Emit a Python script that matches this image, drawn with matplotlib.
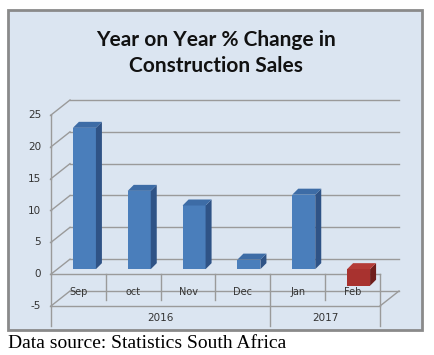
import matplotlib
matplotlib.use("Agg")
import matplotlib.pyplot as plt
from matplotlib.patches import Rectangle, Polygon

months = ["Sep", "oct", "Nov", "Dec", "Jan", "Feb"]
years = ["2016", "2017"]
year_spans = [(0, 3), (4, 5)]
change = [22.2, 12.3, 10.0, 1.5, 11.7, -2.6]
yticks = [-5, 0, 5, 10, 15, 20, 25]

W, H = 434, 355
fig = plt.figure(figsize=(W / 100, H / 100), dpi=100)
fig.patch.set_facecolor("white")

# chart box
box = Rectangle((8 / W, 1 - 330 / H), 414 / W, 320 / H, transform=fig.transFigure,
                facecolor="#dbe5f1", edgecolor="#8a8a8a", lw=2, zorder=-10)
fig.patches.append(box)

fig.text(216 / W, 1 - 40 / H, "Year on Year % Change in", ha="center", va="center",
         fontsize=15, fontweight="bold", family="Lato", color="#111111")
fig.text(216 / W, 1 - 66 / H, "Construction Sales", ha="center", va="center",
         fontsize=15, fontweight="bold", family="Lato", color="#111111")
fig.text(8 / W, 1 - 343 / H, "Data source: Statistics South Africa", ha="left", va="center",
         fontsize=14, family="Liberation Serif", color="black")

# plot area: front plane
ax = fig.add_axes([51 / W, 1 - 306 / H, 329 / W, 191 / H])
ax.set_xlim(-0.5, 5.5)
ax.set_ylim(-5, 25)
ax.axis("off")

ppx = 329 / 6.0   # pixels per category
ppy = 191 / 30.0  # pixels per unit
wdx, wdy = 19 / ppx, 15 / ppy     # depth to back wall
grid = "#9a9a9a"
kw = dict(color=grid, lw=1, clip_on=False, zorder=1)

# back wall gridlines and side wall lines
for v in yticks:
    ax.plot([-0.5 + wdx, 5.5 + wdx], [v + wdy, v + wdy], **kw)
    ax.plot([-0.5, -0.5 + wdx], [v, v + wdy], **kw)
    ax.plot([-0.52, -0.5], [v, v], **kw)
    ax.text(-0.68, v, str(v), ha="right", va="center", fontsize=7.5, color="#333333")

# front axis lines
bottom = -5 - 20 / ppy
ax.plot([-0.5, -0.5], [25, bottom], **kw)
ax.plot([-0.5, 5.5], [0, 0], **kw)
ax.plot([-0.5, 5.5], [-5, -5], **kw)
ax.plot([5.5, 5.5 + wdx], [-5, -5 + wdy], **kw)
for i in range(len(months) - 1):
    edge = i + 0.5
    if any(edge == e + 0.5 for s, e in year_spans):
        ax.plot([edge, edge], [0, bottom], **kw)
    else:
        ax.plot([edge, edge], [0, -5 + 6 / ppy], **kw)
ax.plot([5.5, 5.5], [0, bottom], **kw)

for i, m in enumerate(months):
    ax.text(i, -5 + 14 / ppy, m, ha="center", va="center", fontsize=7, color="#333333", zorder=2)
for (s, e), yr in zip(year_spans, years):
    ax.text((s + e) / 2, -5 - 12 / ppy, yr, ha="center", va="center", fontsize=7.5, color="#333333")

# bars with fake depth
w = 23 / ppx
sx, sy = 6 / ppx, 5 / ppy
ddx, ddy = 6 / ppx, 6 / ppy
front = ["#4a7ebb" if v >= 0 else "#a8322f" for v in change]
side = ["#2f5386" if v >= 0 else "#6f1e1c" for v in change]
top = ["#3d6ca6" if v >= 0 else "#b43c38" for v in change]
xs = list(range(len(months)))
ax.bar([x + sx for x in xs], change, width=w, bottom=sy, color=front, zorder=5, clip_on=False)
for x, v, cs, ct in zip(xs, change, side, top):
    x0 = x + sx - w / 2
    x1 = x0 + w
    lo, hi = sy + min(v, 0), sy + max(v, 0)
    ax.add_patch(Polygon([(x1, lo), (x1 + ddx, lo + ddy), (x1 + ddx, hi + ddy), (x1, hi)],
                         closed=True, facecolor=cs, edgecolor="none", zorder=5, clip_on=False))
    ax.add_patch(Polygon([(x0, hi), (x1, hi), (x1 + ddx, hi + ddy), (x0 + ddx, hi + ddy)],
                         closed=True, facecolor=ct, edgecolor="none", zorder=5, clip_on=False))

fig.savefig("out.png", dpi=100)
